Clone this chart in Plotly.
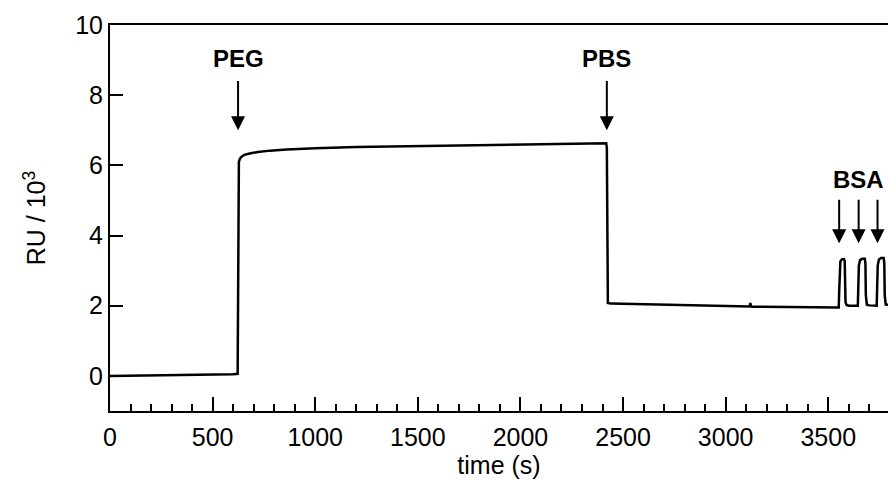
import plotly.graph_objects as go

# Sensorgram: response (RU / 10^3) vs time (s)
time_s = [0, 200, 400, 600, 622, 624, 626, 628, 632, 640, 655, 680, 720, 780, 860,
          1000, 1200, 1500, 1800, 2100, 2300, 2418, 2421, 2423, 2426, 2440, 2600,
          2800, 3000, 3110, 3117, 3120, 3124, 3130, 3300, 3450, 3551,
          3553, 3555, 3559, 3566, 3576, 3580, 3582, 3584, 3589, 3600,
          3644, 3646, 3649, 3655, 3665, 3678, 3681, 3683, 3688, 3700,
          3736, 3738, 3741, 3747, 3757, 3770, 3773, 3775, 3780, 3800]
ru_k = [0.0, 0.01, 0.03, 0.05, 0.06, 3.0, 5.9, 6.1, 6.18, 6.24, 6.3, 6.34, 6.38, 6.42, 6.45,
        6.49, 6.52, 6.55, 6.58, 6.6, 6.62, 6.63, 6.5, 2.2, 2.08, 2.06, 2.04,
        2.02, 1.99, 1.98, 1.98, 2.08, 1.98, 1.97, 1.96, 1.95, 1.95,
        2.4, 3.1, 3.26, 3.32, 3.33, 3.28, 2.8, 2.1, 2.02, 2.0,
        2.0, 2.5, 3.15, 3.3, 3.34, 3.34, 3.2, 2.3, 2.03, 2.01,
        2.0, 2.5, 3.15, 3.32, 3.36, 3.36, 3.2, 2.3, 2.03, 2.02]

# Injection markers: label, arrow positions (time)
events = [("PEG", [624]), ("PBS", [2421]), ("BSA", [3553, 3648, 3740])]

x_ticks = [0, 500, 1000, 1500, 2000, 2500, 3000, 3500]
y_ticks = [0, 2, 4, 6, 8, 10]

fig = go.Figure()
fig.add_trace(go.Scatter(x=time_s, y=ru_k, mode="lines",
                         line=dict(color="black", width=2.5),
                         showlegend=False, hoverinfo="skip"))

family = "Liberation Sans, Arial, sans-serif"
tick_font = dict(family=family, size=25, color="black")
title_font = dict(family=family, size=25, color="black")
label_font = dict(family=family, size=24, color="black")

annotations = []
for label, xs in events:
    if label == "BSA":
        tip, tail, txt = 3.78, 5.06, 5.6
    else:
        tip, tail, txt = 7.0, 8.45, 9.05
    for xv in xs:
        annotations.append(dict(x=xv, y=tip, ax=xv, ay=tail, xref="x", yref="y",
                                axref="x", ayref="y", text="", showarrow=True,
                                arrowhead=2, arrowsize=1.4, arrowwidth=2,
                                arrowcolor="black"))
    xc = sum(xs) / len(xs)
    annotations.append(dict(x=xc, y=txt, xref="x", yref="y", text="<b>%s</b>" % label,
                            showarrow=False, font=label_font))

fig.update_layout(
    width=888, height=482,
    margin=dict(l=110, r=0, t=25, b=71),
    paper_bgcolor="white", plot_bgcolor="white",
    font=title_font,
    annotations=annotations,
    xaxis=dict(range=[0, 3791], tickvals=x_ticks, ticks="inside", ticklen=14,
               tickwidth=1.5, tickcolor="black", showline=True, linecolor="black",
               linewidth=2, mirror=True, showgrid=False, zeroline=False,
               tickfont=tick_font, ticklabelstandoff=3,
               minor=dict(dtick=100, ticks="inside", ticklen=7, tickwidth=1.5,
                          tickcolor="black", showgrid=False),
               title=dict(text="time (s)", font=title_font, standoff=0)),
    yaxis=dict(range=[-1, 10], tickvals=y_ticks, ticks="inside", ticklen=13,
               tickwidth=1.5, tickcolor="black", showline=True, linecolor="black",
               linewidth=2, mirror=False, showgrid=False, zeroline=False,
               tickfont=tick_font, ticklabelstandoff=0,
               title=dict(text="RU / 10<sup>3</sup>", font=title_font, standoff=22)),
)

fig.write_html("out.html")
